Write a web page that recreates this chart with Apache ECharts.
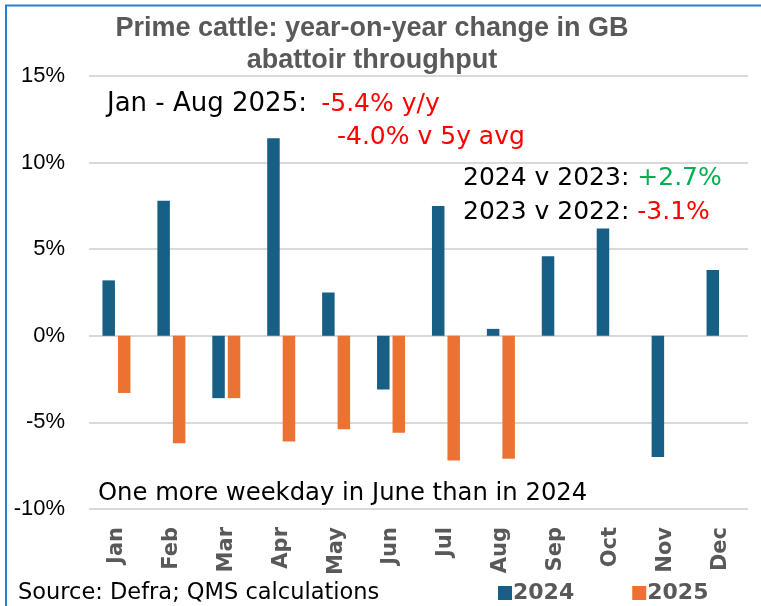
<!DOCTYPE html>
<html>
<head>
<meta charset="utf-8">
<script src="https://cdn.jsdelivr.net/npm/echarts@6/dist/echarts.min.js"></script>
<style>
  html, body { margin: 0; padding: 0; background: #fff; }
  #chart { width: 761px; height: 606px; }
</style>
</head>
<body>
<div id="chart"></div>
<script>
// data
const months = ['Jan', 'Feb', 'Mar', 'Apr', 'May', 'Jun', 'Jul', 'Aug', 'Sep', 'Oct', 'Nov', 'Dec']
const y2024 = [3.2, 7.8, -3.6, 11.4, 2.5, -3.1, 7.5, 0.4, 4.6, 6.2, -7.0, 3.8]
const y2025 = [-3.3, -6.2, -3.6, -6.1, -5.4, -5.6, -7.2, -7.1, null, null, null, null]
const yTicks = [-10, -5, 0, 5, 10, 15]

const font = '"Liberation Sans", Arial, sans-serif'
const wide = '"DejaVu Sans", sans-serif'
const grey = '#595959'
const red = '#ff0000'
const green = '#00b050'

let myChart = echarts.init(document.getElementById('chart'))

myChart.setOption({
    animation: false,
    textStyle: { fontFamily: font },
    grid: {
        left: 89,
        right: 13,
        top: 76,
        bottom: 97
    },
    legend: {
        data: ['2024', '2025'],
        left: 493,
        top: 577,
        itemWidth: 14,
        itemHeight: 14,
        itemGap: 58,
        icon: 'rect',
        textStyle: { color: grey, fontWeight: 'bold', fontSize: 22, fontFamily: wide, padding: [0, 0, 0, -4] }
    },
    xAxis: {
        type: 'category',
        data: months,
        axisLine: { show: false },
        axisTick: { show: false },
        axisLabel: {
            rotate: 90,
            margin: 18,
            color: grey,
            fontWeight: 'bold',
            fontSize: 21,
            fontFamily: wide
        }
    },
    yAxis: {
        type: 'value',
        min: yTicks[0],
        max: yTicks[yTicks.length - 1],
        interval: 5,
        axisLine: { show: false },
        axisTick: { show: false },
        axisLabel: {
            formatter: '{value}%',
            color: '#000',
            fontSize: 22,
            margin: 24
        },
        splitLine: { lineStyle: { color: '#d9d9d9', width: 2 } }
    },
    series: [
        {
            name: '2024',
            type: 'bar',
            data: y2024,
            barWidth: 12.5,
            barGap: '24%',
            itemStyle: { color: '#175f84' }
        },
        {
            name: '2025',
            type: 'bar',
            data: y2025,
            barWidth: 12.5,
            itemStyle: { color: '#eb7233' }
        }
    ],
    graphic: [
        {
            type: 'rect',
            silent: true,
            shape: { x: 6, y: 5.5, width: 820, height: 700 },
            style: { fill: 'none', stroke: '#2a7fd2', lineWidth: 2 }
        },
        {
            type: 'text',
            x: 372,
            y: 29,
            style: {
                text: 'Prime cattle: year-on-year change in GB',
                font: 'bold 27px ' + font,
                fill: grey,
                textAlign: 'center',
                textVerticalAlign: 'middle'
            }
        },
        {
            type: 'text',
            x: 372,
            y: 61,
            style: {
                text: 'abattoir throughput',
                font: 'bold 27px ' + font,
                fill: grey,
                textAlign: 'center',
                textVerticalAlign: 'middle'
            }
        },
        {
            type: 'text',
            x: 107,
            y: 104,
            style: {
                text: '{k|Jan - Aug 2025: }{r|-5.4% y/y}',
                textVerticalAlign: 'middle',
                rich: {
                    k: { fill: '#000', fontSize: 26, fontFamily: wide },
                    r: { fill: red, fontSize: 25, fontFamily: wide, padding: [0, 0, 0, 6] }
                }
            }
        },
        {
            type: 'text',
            x: 337,
            y: 137,
            style: {
                text: '-4.0% v 5y avg',
                font: '25px ' + wide,
                fill: red,
                textVerticalAlign: 'middle'
            }
        },
        {
            type: 'text',
            x: 463,
            y: 178,
            style: {
                text: '{k|2024 v 2023: }{g|+2.7%}',
                textVerticalAlign: 'middle',
                rich: {
                    k: { fill: '#000', fontSize: 25, fontFamily: wide },
                    g: { fill: green, fontSize: 25, fontFamily: wide }
                }
            }
        },
        {
            type: 'text',
            x: 463,
            y: 212,
            style: {
                text: '{k|2023 v 2022: }{r|-3.1%}',
                textVerticalAlign: 'middle',
                rich: {
                    k: { fill: '#000', fontSize: 25, fontFamily: wide },
                    r: { fill: red, fontSize: 25, fontFamily: wide }
                }
            }
        },
        {
            type: 'text',
            x: 98,
            y: 494,
            style: {
                text: 'One more weekday in June than in 2024',
                font: '24.3px ' + wide,
                fill: '#000',
                textVerticalAlign: 'middle'
            }
        },
        {
            type: 'text',
            x: 18,
            y: 593,
            style: {
                text: 'Source: Defra; QMS calculations',
                font: '22.5px ' + wide,
                fill: '#000',
                textVerticalAlign: 'middle'
            }
        }
    ]
})
</script>
</body>
</html>
